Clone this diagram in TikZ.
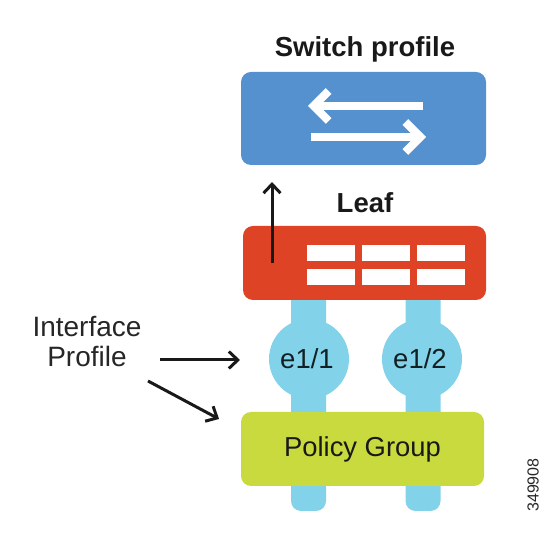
\documentclass[tikz,border=0pt]{standalone}
\usepackage{fontspec}
\setmainfont{Liberation Sans}
\usetikzlibrary{arrows.meta}
\tikzset{
    panel/.style={rounded corners=10, inner sep=0pt, minimum height=#1},
    pipe/.style={fill=portblue, rounded corners=10, inner sep=0pt, minimum width=35, minimum height=221},
    port/.style={circle, fill=portblue, inner sep=0pt, minimum size=80, text=black!85!portblue, font=\fontsize{27.5}{27.5}\selectfont},
    cell/.style={fill=white, inner sep=0pt, minimum width=48, minimum height=16},
    flow/.style={white, line width=8, -{Straight Barb[length=15, width=30, line width=8]}},
    callout/.style={black!90, line width=3, -{Straight Barb[length=9, width=17, line width=3]}},
    title/.style={font=\fontsize{27.5}{27.5}\selectfont\bfseries, text=black!90},
}
\definecolor{switchblue}{HTML}{5691CF}
\definecolor{leafred}{HTML}{DE4325}
\definecolor{portblue}{HTML}{82D2E9}
\definecolor{policygreen}{HTML}{C9DA3F}
\begin{document}
\begin{tikzpicture}[x=1pt, y=1pt]
    \useasboundingbox (0,0) rectangle (547,559);

    % Switch profile
    \node[title] (switchtitle) at (365,510) {Switch profile};
    \node[panel=93, minimum width=245, fill=switchblue] (switch) at (363.5,440.5) {};
    \coordinate (flowAa) at (423,453);
    \coordinate (flowAb) at (308,453);
    \coordinate (flowBa) at (311,422);
    \coordinate (flowBb) at (426,422);
    \draw[flow] (flowAa) -- (flowAb);
    \draw[flow] (flowBa) -- (flowBb);

    % Ports behind the leaf and the policy group
    \node[pipe] (pipeA) at (308.5,158.5) {};
    \node[pipe] (pipeB) at (423,158.5) {};

    % Leaf
    \node[title] (leaftitle) at (365,356) {Leaf};
    \node[panel=74, minimum width=243, fill=leafred] (leaf) at (364.5,296) {};
    \foreach \cx/\cname in {331/a, 386/b, 441/c} {
        \node[cell] (cell\cname top) at (\cx,305.5) {};
        \node[cell] (cell\cname bot) at (\cx,282) {};
    }
    \coordinate (upstart) at (272,296);
    \coordinate (upend) at (272,377);
    \draw[callout] (upstart) -- (upend);

    % Interfaces
    \node[port] (eA) at (309,200) {\hspace{-4pt}\raisebox{-1.5pt}{e1/1}};
    \node[port] (eB) at (422,200) {\hspace{-4pt}\raisebox{-1.5pt}{e1/2}};

    % Policy group
    \node[panel=74, minimum width=243, fill=policygreen, text=black!90, font=\fontsize{27.4}{27.4}\selectfont] (policy) at (362.5,110) {\raisebox{-1.5pt}{Policy Group}};

    % Interface profile and its arrows
    \node[align=center, font=\fontsize{28}{30}\selectfont, text=black!85] (iface) at (87,217) {Interface\\Profile};
    \coordinate (ifaceA) at (160,199);
    \coordinate (ifaceAend) at (240,199);
    \coordinate (ifaceB) at (148,178);
    \coordinate (ifaceBend) at (219,140);
    \draw[callout] (ifaceA) -- (ifaceAend);
    \draw[callout] (ifaceB) -- (ifaceBend);

    % Figure number
    \node[rotate=90, font=\fontsize{16}{16}\selectfont, text=black!85] (figid) at (533,74) {349908};
\end{tikzpicture}
\end{document}
